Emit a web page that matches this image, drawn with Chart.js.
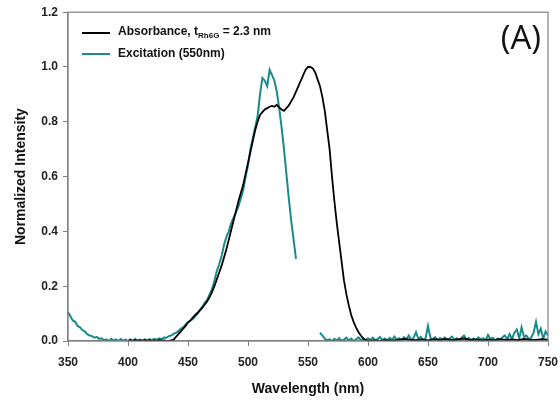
<!DOCTYPE html>
<html>
<head>
<meta charset="utf-8">
<script src="https://cdn.jsdelivr.net/npm/chart.js@4"></script>
<style>
  html, body { margin: 0; padding: 0; background: #fff; }
  #wrap { width: 560px; height: 406px; }
</style>
</head>
<body>
<div id="wrap"><canvas id="chart" width="560" height="406"></canvas></div>
<script>
"use strict";

// absorbance (black)
var absWl = [400,402,404,406,408,410,412,414,416,418,420,422,424,426,428,430,432,434,436,438,
  440,442,444,446,448,450,452,454,456,458,460,462,464,466,468,470,472,474,476,478,
  480,482,484,486,488,490,492,494,496,498,500,502,504,506,508,510,512,514,516,518,
  520,522,524,526,528,530,532,534,536,538,540,542,544,546,548,550,552,554,556,558,
  560,562,564,566,568,570,572,574,576,578,580,582,584,586,588,590,592,594,596,598,
  600,605,610,615,620,625,630,635,640,645,650,655,660,665,670,675,680,685,690,695,
  700,705,710,715,720,725,730,735,740,745,750];
var absVal = [0.0,0.003,0.0,0.004,0.001,0.003,0.0,0.004,0.001,0.003,0.0,0.002,0.0,0.004,0.001,0.002,0.0,0.0,0.002,0.005,
  0.015,0.025,0.035,0.045,0.055,0.068,0.075,0.085,0.095,0.103,0.112,0.122,0.133,0.145,0.16,0.178,0.2,0.225,0.25,0.275,
  0.305,0.335,0.37,0.405,0.44,0.475,0.51,0.54,0.57,0.61,0.65,0.69,0.73,0.77,0.8,0.825,0.835,0.845,0.85,0.855,
  0.858,0.855,0.862,0.852,0.845,0.84,0.85,0.86,0.875,0.89,0.91,0.93,0.95,0.97,0.99,1.0,1.0,0.995,0.98,0.955,
  0.93,0.89,0.84,0.77,0.7,0.6,0.51,0.43,0.36,0.29,0.22,0.17,0.13,0.095,0.07,0.05,0.033,0.02,0.01,0.004,
  0.0,0.002,0.0,0.003,0.001,0.004,0.008,0.005,0.003,0.006,0.002,0.007,0.004,0.008,0.003,0.006,0.009,0.004,0.006,0.002,
  0.005,0.003,0.007,0.004,0.006,0.003,0.008,0.005,0.004,0.007,0.005];

// excitation (teal), two pieces with a gap around the 550 nm line
var excWl1 = [350,352,354,356,358,360,362,364,366,368,370,372,374,376,378,380,382,384,386,388,
  390,392,394,396,398,400,402,404,406,408,410,412,414,416,418,420,422,424,426,428,
  430,432,434,436,438,440,442,444,446,448,450,452,454,456,458,460,462,464,466,468,
  470,472,474,476,478,480,482,484,486,488,490,492,494,496,498,500,502,504,506,508,
  510,512,514,516,518,520,522,524,526,528,530,532,534,536,538,540];
var excVal1 = [0.105,0.09,0.075,0.07,0.055,0.05,0.04,0.035,0.025,0.02,0.018,0.012,0.015,0.008,0.01,0.003,0.006,0.0,0.008,0.002,
  0.006,0.0,0.007,0.001,0.005,0.0,0.006,0.001,0.007,0.0,0.005,0.002,0.006,0.0,0.007,0.003,0.008,0.004,0.01,0.007,
  0.013,0.012,0.018,0.02,0.026,0.03,0.036,0.045,0.05,0.06,0.068,0.074,0.08,0.09,0.1,0.115,0.125,0.14,0.15,0.17,
  0.19,0.22,0.255,0.28,0.31,0.35,0.38,0.4,0.43,0.45,0.47,0.49,0.52,0.55,0.6,0.64,0.7,0.74,0.78,0.82,
  0.9,0.96,0.95,0.93,0.99,0.97,0.95,0.91,0.85,0.78,0.7,0.61,0.52,0.44,0.37,0.3];
var excWl2 = [560,562,564,566,568,570,572,574,576,578,580,582,584,586,588,590,592,594,596,598,
  600,602,604,606,608,610,612,614,616,618,620,622,624,626,628,630,632,634,636,638,
  640,642,644,646,648,650,652,654,656,658,660,662,664,666,668,670,672,674,676,678,
  680,682,684,686,688,690,692,694,696,698,700,702,704,706,708,710,712,714,716,718,
  720,722,724,726,728,730,732,734,736,738,740,742,744,746,748,750];
var excVal2 = [0.03,0.02,0.008,0.003,0.006,0.0,0.008,0.002,0.01,0.001,0.005,0.012,0.002,0.009,0.0,0.006,0.013,0.003,0.008,0.001,
  0.01,0.004,0.012,0.002,0.007,0.015,0.003,0.009,0.001,0.011,0.004,0.016,0.005,0.01,0.002,0.014,0.006,0.02,0.004,0.012,
  0.032,0.008,0.015,0.003,0.01,0.055,0.012,0.006,0.014,0.002,0.011,0.005,0.013,0.001,0.009,0.016,0.004,0.01,0.002,0.012,
  0.02,0.005,0.011,0.003,0.009,0.002,0.013,0.006,0.01,0.003,0.022,0.007,0.012,0.002,0.009,0.004,0.014,0.02,0.006,0.025,
  0.008,0.03,0.042,0.01,0.05,0.015,0.02,0.006,0.012,0.03,0.07,0.025,0.045,0.008,0.035,0.02];

var xTicks = [350,400,450,500,550,600,650,700,750];
var yTicks = [0.0,0.2,0.4,0.6,0.8,1.0,1.2];

var teal = "#1b8a8a";

function toPts(xs, ys){
    var out = [];
    for (var i = 0; i < xs.length; i++) out.push({x: xs[i], y: ys[i]});
    return out;
}

// excitation pieces joined with a null point so the gap stays open
var excPts = toPts(excWl1, excVal1).concat([{x: 550, y: null}], toPts(excWl2, excVal2));

var overlay = {
    id: "overlay",
    afterDraw: function(c){
        var ctx = c.ctx, a = c.chartArea;
        ctx.save();
        // frame on all sides
        ctx.strokeStyle = "#808080";
        ctx.lineWidth = 1.2;
        ctx.strokeRect(a.left, a.top, a.right - a.left, a.bottom - a.top);

        // legend
        ctx.lineWidth = 2;
        ctx.strokeStyle = "#000";
        ctx.beginPath(); ctx.moveTo(82, 33); ctx.lineTo(110, 33); ctx.stroke();
        ctx.strokeStyle = teal;
        ctx.beginPath(); ctx.moveTo(82, 54); ctx.lineTo(110, 54); ctx.stroke();

        ctx.fillStyle = "#111";
        ctx.textBaseline = "middle";
        ctx.textAlign = "left";
        ctx.font = "bold 12px 'Liberation Sans', Arial, sans-serif";
        var x = 118;
        ctx.fillText("Absorbance, t", x, 32);
        x += ctx.measureText("Absorbance, t").width;
        ctx.font = "bold 8px 'Liberation Sans', Arial, sans-serif";
        ctx.fillText("Rh6G", x, 36);
        x += ctx.measureText("Rh6G").width;
        ctx.font = "bold 12px 'Liberation Sans', Arial, sans-serif";
        ctx.fillText(" = 2.3 nm", x, 32);
        ctx.fillText("Excitation (550nm)", 118, 54);

        // panel label
        ctx.font = "33px 'Open Sans', 'Liberation Sans', sans-serif";
        ctx.textAlign = "right";
        ctx.fillText("(A)", 541, 40);
        ctx.restore();
    }
};

var tickFont = {family: "'Liberation Sans', Arial, sans-serif", size: 12, weight: "bold"};
var titleFont = {family: "'Liberation Sans', Arial, sans-serif", size: 14, weight: "bold"};

new Chart(document.getElementById("chart").getContext("2d"), {
    type: "line",
    data: {
        datasets: [
            {
                label: "Absorbance",
                data: toPts(absWl, absVal),
                borderColor: "#000",
                borderWidth: 1.8,
                pointRadius: 0,
                tension: 0
            },
            {
                label: "Excitation (550nm)",
                data: excPts,
                borderColor: teal,
                borderWidth: 2,
                pointRadius: 0,
                tension: 0,
                spanGaps: false
            }
        ]
    },
    options: {
        responsive: false,
        animation: false,
        layout: {padding: {top: 8, right: 0, left: 0, bottom: 0}},
        plugins: {legend: {display: false}, tooltip: {enabled: false}},
        scales: {
            x: {
                type: "linear",
                min: 350, max: 750,
                afterBuildTicks: function(s){ s.ticks = xTicks.map(function(v){ return {value: v}; }); },
                afterFit: function(s){ s.height = 65; s.paddingRight = 12; s.paddingLeft = 0; },
                grid: {drawOnChartArea: false, tickLength: 5, color: "#808080"},
                border: {color: "#808080", width: 1.2},
                ticks: {color: "#222", font: tickFont, padding: 9, maxRotation: 0},
                title: {display: true, text: "Wavelength (nm)", color: "#111", font: titleFont, padding: {top: 4, bottom: 8}}
            },
            y: {
                min: 0, max: 1.2,
                afterBuildTicks: function(s){ s.ticks = yTicks.map(function(v){ return {value: v}; }); },
                afterFit: function(s){ s.width = 68; },
                grid: {drawOnChartArea: false, tickLength: 5, color: "#808080"},
                border: {color: "#808080", width: 1.2},
                ticks: {color: "#222", font: tickFont, padding: 5,
                    callback: function(v){ return Number(v).toFixed(1); }},
                title: {display: true, text: "Normalized Intensity", color: "#111", font: titleFont, padding: {top: 13, bottom: 0}}
            }
        }
    },
    plugins: [overlay]
});
</script>
</body>
</html>
